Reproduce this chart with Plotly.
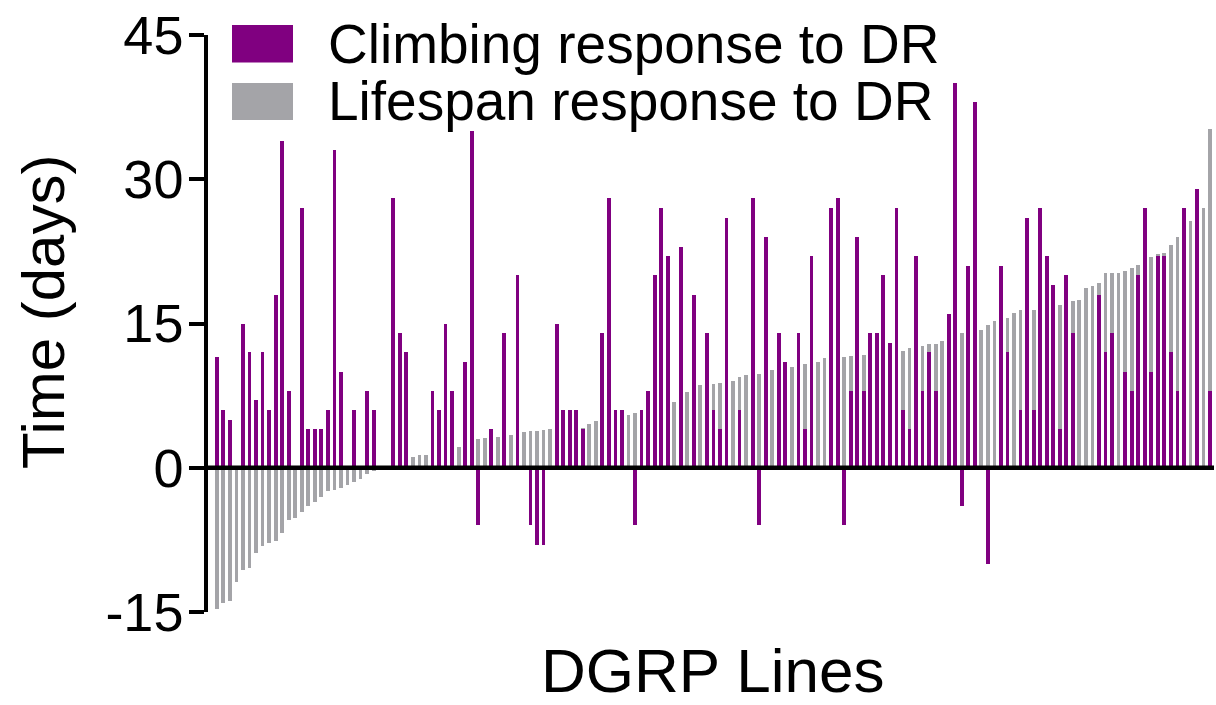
import plotly.graph_objects as go

# ---- data ----
climbing = [11.5, 6, 5, 0, 15, 12, 7, 12, 6, 18, 34, 8, 0, 27, 4, 4, 4, 6, 33, 10,
            0, 6, 0, 8, 6, 0, 0, 28, 14, 12, 0, 0, 0, 8, 6, 15, 8, 0, 11, 35,
            -6, 0, 4, 0, 14, 0, 20, 0, -6, -8, -8, 0, 15, 6, 6, 6, 4, 0, 0, 14,
            28, 6, 6, 0, -6, 6, 8, 20, 27, 22, 0, 23, 0, 18, 0, 14, 6, 4, 26, 0,
            6, 0, 28, -6, 24, 0, 14, 11, 0, 14, 4, 22, 0, 0, 27, 28, -6, 8, 24, 8,
            14, 14, 20, 13, 27, 6, 4, 22, 8, 12, 8, 0, 16, 40, -4, 21, 38, 0, -10, 0,
            21, 12, 0, 6, 26, 6, 27, 22, 19, 4, 20, 14, 0, 0, 0, 18, 12, 14, 0, 10,
            8, 20, 27, 10, 22, 22, 12, 8, 27, 0, 29, 0, 8]

lifespan = [-14.7, -14.1, -13.9, -11.9, -10.6, -10.4, -8.9, -8.1, -7.8, -7.6,
            -6.8, -5.4, -5.2, -4.6, -4.0, -3.6, -3.0, -2.4, -2.3, -2.1,
            -1.8, -1.5, -1.2, -0.6, -0.3, 0.05, 0.2, 0.5, 0.8, 1.0,
            1.15, 1.3, 1.3, 1.4, 1.6, 1.8, 2.0, 2.2, 2.5, 2.8,
            3.0, 3.1, 3.15, 3.2, 3.3, 3.4, 3.5, 3.7, 3.8, 3.85,
            3.9, 4.0, 4.0, 4.0, 4.05, 4.05, 4.1, 4.5, 4.9, 5.0,
            5.1, 5.2, 5.35, 5.5, 5.65, 5.8, 6.0, 6.2, 6.4, 6.6,
            6.8, 7.3, 7.85, 8.2, 8.6, 8.65, 8.7, 8.8, 8.9, 9.0,
            9.4, 9.6, 9.65, 9.7, 9.9, 10.2, 10.3, 10.4, 10.5, 10.6,
            10.8, 10.9, 11.0, 11.4, 11.45, 11.5, 11.5, 11.6, 11.65, 11.7,
            11.75, 11.8, 11.85, 11.9, 12.0, 12.1, 12.5, 12.6, 12.7, 12.9,
            12.9, 13.2, 13.5, 13.8, 14.0, 14.1, 14.2, 14.3, 14.8, 15.25,
            15.4, 15.6, 16.1, 16.4, 16.4, 16.4, 16.5, 16.6, 16.8, 16.9,
            17.1, 17.3, 17.45, 18.7, 18.95, 19.2, 20.2, 20.2, 20.2, 20.5,
            20.8, 21.1, 21.5, 21.9, 22.2, 22.3, 23.2, 24.0, 24.8, 25.7,
            26.3, 27.0, 35.2]

lines = list(range(len(climbing)))
y_ticks = [-15, 0, 15, 30, 45]
y_tick_labels = ["-15", "0", "15", "30", "45"]
series_names = ["Climbing response to DR", "Lifespan response to DR"]

PURPLE = "#800080"
GRAY = "#a4a4a8"
FONT = "Liberation Sans, Arial, Helvetica, sans-serif"

W, H = 1216, 705
ML, MR, MT, MB = 208, 2, 35, 93
PW, PH = W - ML - MR, H - MT - MB


def px(x):
    return (x - ML) / PW


def py(y):
    return (H - MB - y) / PH


fig = go.Figure()
fig.add_trace(go.Bar(x=lines, y=lifespan, name=series_names[1], width=0.58,
                     marker=dict(color=GRAY, line=dict(width=0)), showlegend=False))
fig.add_trace(go.Bar(x=lines, y=climbing, name=series_names[0], width=0.58,
                     marker=dict(color=PURPLE, line=dict(width=0)), showlegend=False))

shapes = [
    dict(type="line", xref="paper", yref="y", x0=0, x1=1, y0=0, y1=0,
         line=dict(color="black", width=4.5), layer="above"),
    dict(type="rect", xref="paper", yref="paper", x0=px(232), x1=px(293),
         y0=py(62.5), y1=py(25), fillcolor=PURPLE, line=dict(width=0)),
    dict(type="rect", xref="paper", yref="paper", x0=px(232), x1=px(293),
         y0=py(120), y1=py(83), fillcolor=GRAY, line=dict(width=0)),
]

annotations = [
    dict(text=series_names[0], xref="paper", yref="paper", x=px(326), y=py(44),
         xanchor="left", yanchor="middle", showarrow=False,
         font=dict(family=FONT, size=55, color="black")),
    dict(text=series_names[1], xref="paper", yref="paper", x=px(326), y=py(101),
         xanchor="left", yanchor="middle", showarrow=False,
         font=dict(family=FONT, size=55, color="black")),
    dict(text="Time (days)", xref="paper", yref="paper", x=px(44), y=py(312),
         xanchor="center", yanchor="middle", textangle=-90, showarrow=False,
         font=dict(family=FONT, size=60, color="black")),
    dict(text="DGRP Lines", xref="paper", yref="paper", x=px(712), y=py(670),
         xanchor="center", yanchor="middle", showarrow=False,
         font=dict(family=FONT, size=62, color="black")),
]

fig.update_layout(
    width=W, height=H,
    margin=dict(l=ML, r=MR, t=MT, b=MB, autoexpand=False),
    paper_bgcolor="white", plot_bgcolor="white",
    barmode="overlay", bargap=0,
    shapes=shapes, annotations=annotations,
    xaxis=dict(range=[-1.35, 152.6], showline=False, showticklabels=False,
               showgrid=False, zeroline=False, ticks="", automargin=False),
    yaxis=dict(range=[-15, 45], tickvals=y_ticks, ticktext=y_tick_labels,
               showline=True, linecolor="black",
               linewidth=3.5, ticks="outside", ticklen=15, tickwidth=3.5,
               tickcolor="black", showgrid=False, zeroline=False,
               tickfont=dict(family=FONT, size=54, color="black"),
               ticklabelstandoff=-5, automargin=False),
)

fig.write_html(
    "out.html",
    config={"displayModeBar": False},
    post_script="document.body.style.margin='0';document.body.style.overflow='hidden';",
)
